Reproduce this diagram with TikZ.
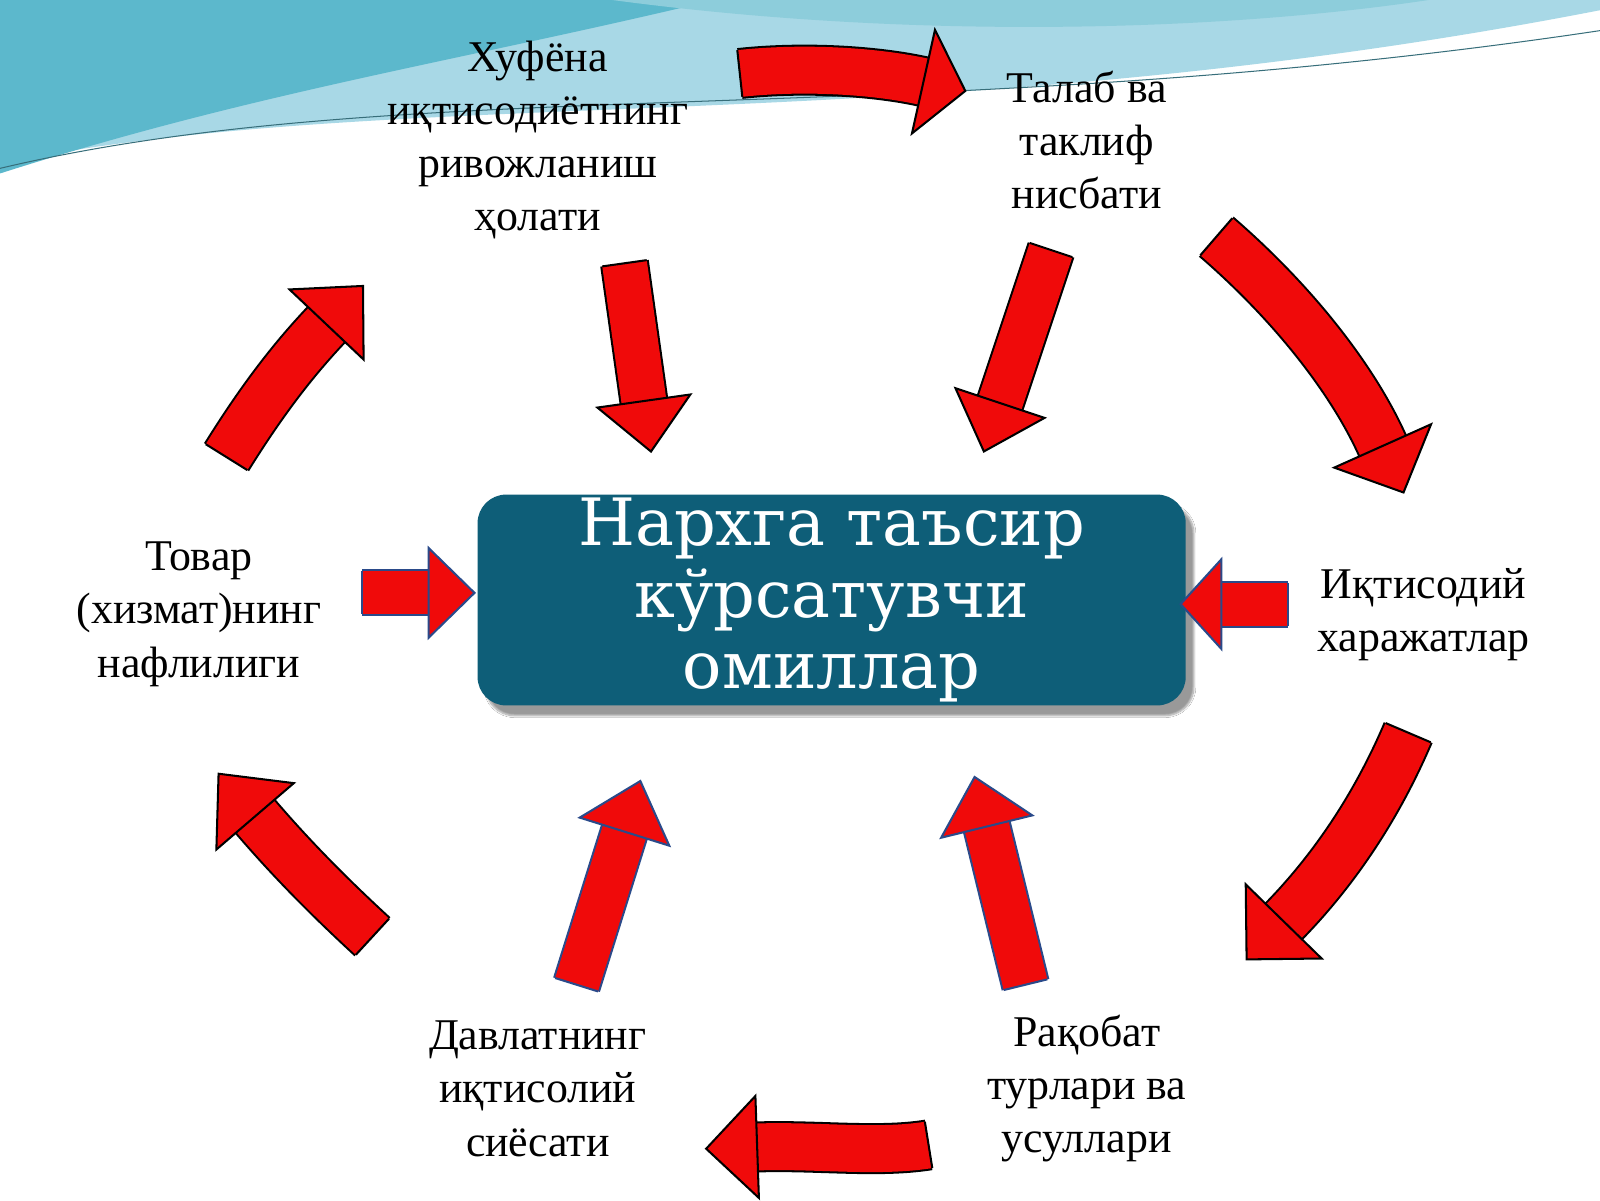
\documentclass[tikz,border=0pt]{standalone}
\usepackage{fontspec}
\setmainfont{Liberation Serif}
\newfontfamily\titlefont{DejaVu Serif}
\usetikzlibrary{calc,shadows.blur}
\definecolor{arrred}{HTML}{F00A0A}
\definecolor{boxblue}{HTML}{0E5E78}
\definecolor{lblue}{HTML}{A8D8E6}
\definecolor{teal}{HTML}{5CB8CC}
\definecolor{outblue}{HTML}{2A4A8A}
\tikzset{lbl/.style={align=center,font=\fontsize{43}{52}\selectfont,text=black}}
% #1 start, #2 c1, #3 c2, #4 end(head base), #5 head length, #6 shaft halfwidth, #7 head halfwidth, #8 outline colour
\newcommand\blockarr[8]{%
  \coordinate (tipx) at ($(#4)!-#5 pt!(#3)$);
  \draw[line width={2*#6+4}, #8] (#1) .. controls (#2) and (#3) .. (#4);
  \draw[line width={2*#6}, arrred] (#1) .. controls (#2) and (#3) .. (#4);
  \draw[#8, line width=2pt] ($(#1)!#6 pt!90:(#2)$) -- ($(#1)!#6 pt!-90:(#2)$);
  \filldraw[fill=arrred, draw=#8, line width=2pt, line join=miter]
     ($(#4)!#7 pt!90:(tipx)$) -- (tipx) -- ($(#4)!#7 pt!-90:(tipx)$) -- cycle;
}
\begin{document}
\begin{tikzpicture}[x=1pt,y=-1pt]
\useasboundingbox (0,0) rectangle (1568,1176);
\fill[white] (0,0) rectangle (1568,1176);
% wave background
\fill[lblue] (0,0) -- (0,160) .. controls (400,80) and (900,140) .. (1568,10) -- (1568,0) -- cycle;
\fill[teal] (0,0) -- (0,170) .. controls (250,90) and (450,60) .. (700,0) -- cycle;
\fill[teal!70] (600,0) .. controls (900,40) and (1200,30) .. (1400,0) -- cycle;
\draw[white, line width=3pt] (0,175) .. controls (400,90) and (900,150) .. (1568,15);
\draw[teal!60!black, line width=1pt] (0,165) .. controls (400,70) and (900,130) .. (1568,30);
% centre box
\node[draw=none, fill=boxblue, rounded corners=28pt, minimum width=694pt, minimum height=205pt,
      blur shadow={shadow blur steps=8, shadow xshift=8pt, shadow yshift=-10pt},
      text=white, align=center, font=\titlefont\fontsize{64}{70}\selectfont] (c) at (815,588)
      {Нархга таъсир\\кўрсатувчи\\омиллар};
% labels
\node[lbl] (t1) at (527,137) {Хуфёна\\иқтисодиётнинг\\ривожланиш\\ҳолати};
\node[lbl] (t2) at (1065,137) {Талаб ва\\таклиф\\нисбати};
\node[lbl] (t3) at (195,602) {Товар\\(хизмат)нинг\\нафлилиги};
\node[lbl] (t4) at (1395,602) {Иқтисодий\\харажатлар};
\node[lbl] (t5) at (527,1067) {Давлатнинг\\иқтисолий\\сиёсати};
\node[lbl] (t6) at (1065,1067) {Рақобат\\турлари ва\\усуллари};
% curved arrows
\coordinate (a1s) at (725,72); \coordinate (a1a) at (790,65); \coordinate (a1b) at (860,70);
\coordinate (a1e) at (905,80);
\blockarr{a1s}{a1a}{a1b}{a1e}{42}{23}{52}{black}
\coordinate (a2s) at (1192,232); \coordinate (a2a) at (1265,295); \coordinate (a2b) at (1325,370);
\coordinate (a2e) at (1355,437);
\blockarr{a2s}{a2a}{a2b}{a2e}{50}{24}{52}{black}
\coordinate (a3s) at (1380,718); \coordinate (a3a) at (1345,800); \coordinate (a3b) at (1300,860);
\coordinate (a3e) at (1258,903);
\blockarr{a3s}{a3a}{a3b}{a3e}{52}{24}{52}{black}
\coordinate (a4s) at (910,1122); \coordinate (a4a) at (860,1130); \coordinate (a4b) at (800,1122);
\coordinate (a4e) at (742,1124);
\blockarr{a4s}{a4a}{a4b}{a4e}{50}{23}{50}{black}
\coordinate (a5s) at (365,918); \coordinate (a5a) at (315,872); \coordinate (a5b) at (280,835);
\coordinate (a5e) at (250,800);
\blockarr{a5s}{a5a}{a5b}{a5e}{55}{24}{50}{black}
\coordinate (a6s) at (222,448); \coordinate (a6a) at (255,395); \coordinate (a6b) at (285,355);
\coordinate (a6e) at (320,318);
\blockarr{a6s}{a6a}{a6b}{a6e}{52}{24}{50}{black}
% straight arrows
\coordinate (s1s) at (612,258); \coordinate (s1e) at (631,393);
\blockarr{s1s}{s1e}{s1s}{s1e}{50}{22}{46}{black}
\coordinate (s2s) at (1030,245); \coordinate (s2e) at (980,395);
\blockarr{s2s}{s2e}{s2s}{s2e}{50}{22}{46}{black}
\coordinate (s3s) at (565,965); \coordinate (s3e) at (612,815);
\blockarr{s3s}{s3e}{s3s}{s3e}{52}{22}{46}{outblue}
\coordinate (s4s) at (1005,965); \coordinate (s4e) at (967,810);
\blockarr{s4s}{s4e}{s4s}{s4e}{50}{22}{46}{outblue}
\coordinate (s5s) at (355,581); \coordinate (s5e) at (420,581);
\blockarr{s5s}{s5e}{s5s}{s5e}{45}{21}{44}{outblue}
\coordinate (s6s) at (1262,592); \coordinate (s6e) at (1197,592);
\blockarr{s6s}{s6e}{s6s}{s6e}{40}{21}{44}{outblue}
\end{tikzpicture}
\end{document}
